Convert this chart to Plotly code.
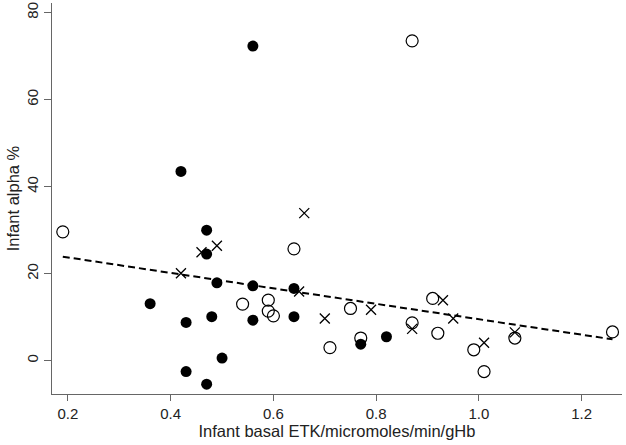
import plotly.graph_objects as go

# Filled circles
filled_x = [0.36, 0.43, 0.43, 0.47, 0.47, 0.47, 0.48, 0.49, 0.50, 0.56, 0.56, 0.64, 0.64, 0.42, 0.56, 0.77, 0.82]
filled_y = [13.1, 8.8, -2.5, 30.0, 24.5, -5.4, 10.1, 17.9, 0.6, 17.2, 9.3, 16.6, 10.1, 43.5, 72.3, 3.8, 5.5]

# Open circles
open_x = [0.19, 0.54, 0.59, 0.59, 0.60, 0.64, 0.87, 0.71, 0.75, 0.77, 0.87, 0.91, 0.92, 0.99, 1.01, 1.07, 1.26]
open_y = [29.6, 13.0, 13.9, 11.4, 10.3, 25.7, 73.5, 3.0, 12.0, 5.2, 8.7, 14.3, 6.3, 2.5, -2.5, 5.2, 6.6]

# Crosses
cross_x = [0.42, 0.46, 0.49, 0.66, 0.65, 0.70, 0.79, 0.87, 0.93, 0.95, 1.01, 1.07]
cross_y = [20.1, 24.9, 26.4, 33.9, 15.9, 9.7, 11.7, 7.3, 13.9, 9.7, 4.1, 6.5]

# Fitted line
fit_x = [0.19, 1.26]
fit_y = [23.9, 4.9]

x_ticks = [0.2, 0.4, 0.6, 0.8, 1.0, 1.2]
x_tick_labels = ["0.2", "0.4", "0.6", "0.8", "1.0", "1.2"]
y_ticks = [0, 20, 40, 60, 80]
y_tick_labels = ["0", "20", "40", "60", "80"]

fig = go.Figure()
fig.add_trace(go.Scatter(x=fit_x, y=fit_y, mode="lines",
                         line=dict(color="black", width=2, dash="7px,4px"), showlegend=False))
fig.add_trace(go.Scatter(x=open_x, y=open_y, mode="markers",
                         marker=dict(symbol="circle-open", size=12, color="black", line=dict(width=1.2)),
                         showlegend=False))
fig.add_trace(go.Scatter(x=cross_x, y=cross_y, mode="markers",
                         marker=dict(symbol="x-thin-open", size=10, color="black", line=dict(width=1.3, color="black")),
                         showlegend=False))
fig.add_trace(go.Scatter(x=filled_x, y=filled_y, mode="markers",
                         marker=dict(symbol="circle", size=11, color="black", line=dict(width=0)),
                         showlegend=False))

axis_font = dict(family="Liberation Sans, Arial, sans-serif", size=15, color="#222")
fig.update_layout(
    width=626, height=445, autosize=False,
    margin=dict(l=52, r=4, t=3, b=51),
    plot_bgcolor="white", paper_bgcolor="white",
    font=dict(family="Liberation Sans, Arial, sans-serif", color="black"),
    xaxis=dict(range=[0.169, 1.2785], tickvals=x_ticks, ticktext=x_tick_labels,
               showline=True, linecolor="#666", linewidth=1.2, ticks="outside", ticklen=6,
               tickcolor="#666", tickfont=axis_font, showgrid=False, zeroline=False, automargin=False,
               title=dict(text="Infant basal ETK/micromoles/min/gHb", font=dict(size=16.5, color="#222"), standoff=0)),
    yaxis=dict(range=[-7.66, 82.2], tickvals=y_ticks, ticktext=y_tick_labels, tickangle=-90,
               showline=True, linecolor="#666", linewidth=1.2, ticks="outside", ticklen=7,
               tickcolor="#666", tickfont=axis_font, showgrid=False, zeroline=False, automargin=False,
               title=dict(text="Infant alpha %", font=dict(size=16.5, color="#222"), standoff=0)),
)
fig.write_html("out.html", config={"displayModeBar": False},
               post_script="document.body.style.margin='0';document.body.style.padding='0';")
